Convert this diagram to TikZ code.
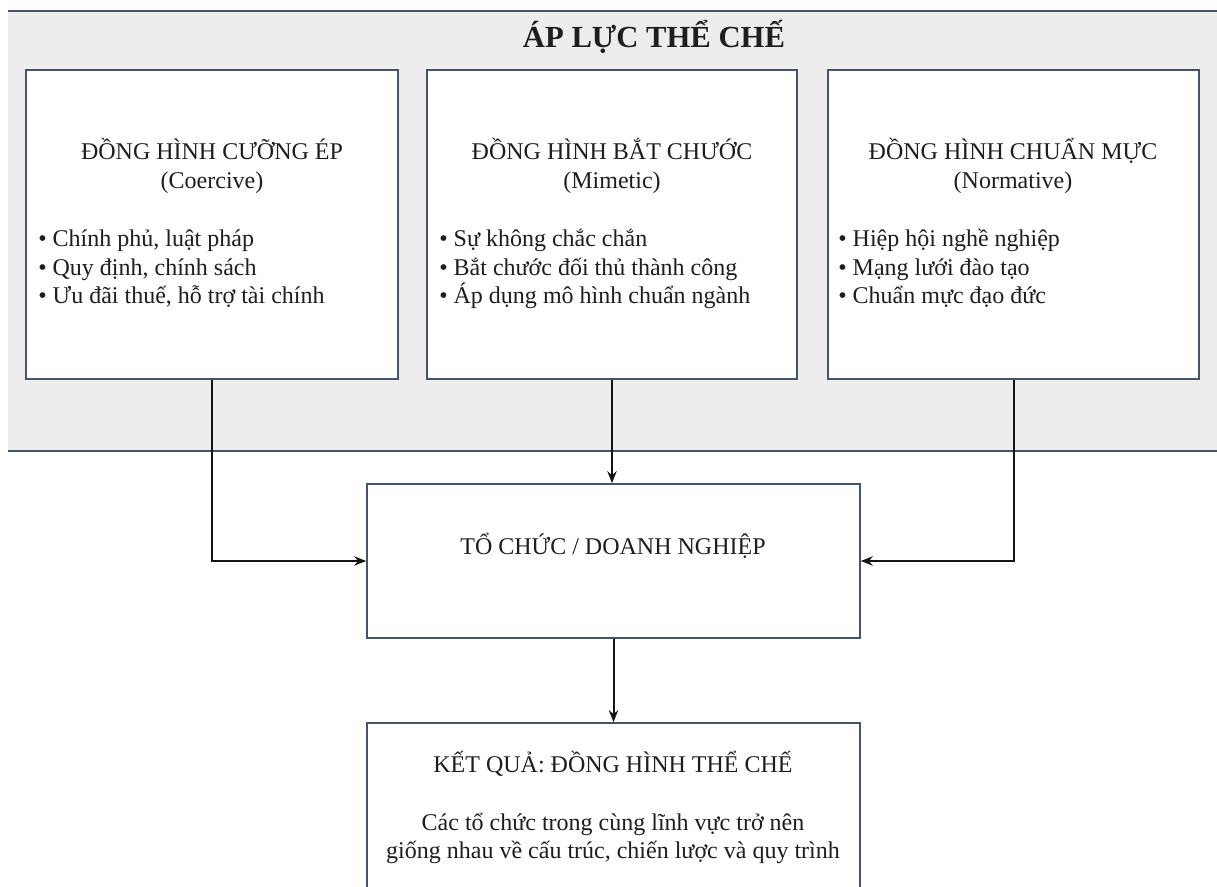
\documentclass[tikz,border=0pt]{standalone}
\usepackage{fontspec}
\setmainfont{Liberation Serif}
\usetikzlibrary{arrows.meta,fit}
\definecolor{slate}{RGB}{68,84,110}
\definecolor{bandgray}{RGB}{237,237,237}
\definecolor{ink}{RGB}{30,30,30}
\begin{document}
\begin{tikzpicture}[x=0.75pt,y=-0.75pt,
  box/.style={draw=slate,line width=1.2pt,fill=white,inner sep=0pt},
  arr/.style={draw=black!92,line width=1.5pt,-{Stealth[length=9pt,width=7pt]}},
  txt/.style={font=\fontsize{18}{21}\selectfont,text=ink,inner sep=0pt},
  headtxt/.style={font=\fontsize{23}{26}\selectfont\bfseries,text=ink,inner sep=0pt},
  bandline/.style={draw=slate,line width=2.2pt}]
\useasboundingbox (0,0) rectangle (1217,887);
\clip (0,0) rectangle (1217,887);

% background band of institutional pressures
\fill[bandgray] (8,11) rectangle (1217,451);
\draw[bandline] (8,11) -- (1217,11);
\draw[bandline] (8,451) -- (1217,451);
\node[headtxt,anchor=base] (head) at (654,48) {ÁP LỰC THỂ CHẾ};

% three isomorphism boxes
\node[box,fit={(26,70) (398,379)}] (b1) {};
\node[box,fit={(427,70) (797,379)}] (b2) {};
\node[box,fit={(828,70) (1199,379)}] (b3) {};

\node[txt,anchor=base] (b1t) at (212,160) {ĐỒNG HÌNH CƯỠNG ÉP};
\node[txt,anchor=base] (b1s) at (212,189) {(Coercive)};
\node[txt,anchor=base west] (b1a) at (38,247) {• Chính phủ, luật pháp};
\node[txt,anchor=base west] (b1b) at (38,276) {• Quy định, chính sách};
\node[txt,anchor=base west] (b1c) at (38,304) {• Ưu đãi thuế, hỗ trợ tài chính};

\node[txt,anchor=base] (b2t) at (612,160) {ĐỒNG HÌNH BẮT CHƯỚC};
\node[txt,anchor=base] (b2s) at (612,189) {(Mimetic)};
\node[txt,anchor=base west] (b2a) at (439,247) {• Sự không chắc chắn};
\node[txt,anchor=base west] (b2b) at (439,276) {• Bắt chước đối thủ thành công};
\node[txt,anchor=base west] (b2c) at (439,304) {• Áp dụng mô hình chuẩn ngành};

\node[txt,anchor=base] (b3t) at (1013,160) {ĐỒNG HÌNH CHUẨN MỰC};
\node[txt,anchor=base] (b3s) at (1013,189) {(Normative)};
\node[txt,anchor=base west] (b3a) at (838,247) {• Hiệp hội nghề nghiệp};
\node[txt,anchor=base west] (b3b) at (838,276) {• Mạng lưới đào tạo};
\node[txt,anchor=base west] (b3c) at (838,304) {• Chuẩn mực đạo đức};

% organisation box
\node[box,fit={(367,484) (860,638)}] (org) {};
\node[txt,anchor=base] (orgt) at (613,554) {TỔ CHỨC / DOANH NGHIỆP};

% outcome box (runs past the lower edge)
\node[box,fit={(367,723) (860,960)}] (res) {};
\node[txt,anchor=base] (rest) at (613,772) {KẾT QUẢ: ĐỒNG HÌNH THỂ CHẾ};
\node[txt,anchor=base] (resa) at (613,830) {Các tổ chức trong cùng lĩnh vực trở nên};
\node[txt,anchor=base] (resb) at (613,858) {giống nhau về cấu trúc, chiến lược và quy trình};

% connectors
\draw[arr] (b1.south) |- (org.west);
\draw[arr] (b2.south) -- (b2.south |- org.north);
\draw[arr] (b3.south) |- (org.east);
\draw[arr] (org.south) -- (res.north);
\end{tikzpicture}
\end{document}
